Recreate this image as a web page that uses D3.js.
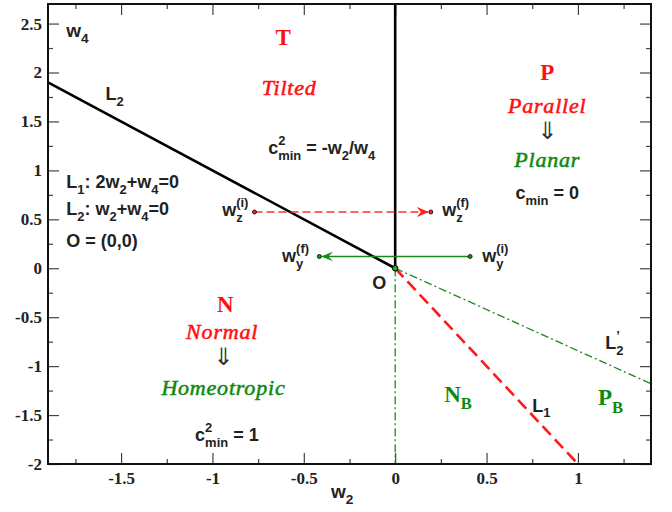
<!DOCTYPE html>
<html>
<head>
<meta charset="utf-8">
<script src="https://cdn.jsdelivr.net/npm/d3@7"></script>
<style>
  body { margin: 0; background: #fff; }
  .lab { font-family: "Liberation Sans", Arial, sans-serif; font-weight: bold; }
  .big { font-family: "Liberation Serif", serif; font-weight: bold; }
  .ital { font-family: "Liberation Serif", serif; font-style: italic; letter-spacing: 0.8px; stroke-width: 0.55px; }
  .arrow { font-family: "DejaVu Sans", sans-serif; font-weight: normal; }
</style>
</head>
<body>
<svg width="672" height="512"></svg>
<script>
const svg = d3.select("svg");

// axis ranges and ticks
const xDomain = [-1.9, 1.4];
const yDomain = [-2, 2.7];
const xTicks = [-1.5, -1, -0.5, 0, 0.5, 1];
const yTicks = [-2, -1.5, -1, -0.5, 0, 0.5, 1, 1.5, 2, 2.5];
const xMinor = [-1.75, -1.25, -0.75, -0.25, 0.25, 0.75, 1.25];
const yMinor = [-1.75, -1.25, -0.75, -0.25, 0.25, 0.75, 1.25, 1.75, 2.25];

// boundary lines (w2, w4)
const lineL2 = [[-1.9, 1.9], [0, 0]];
const lineVert = [[0, 0], [0, 2.7]];
const lineL1 = [[0, 0], [1, -2]];
const lineNegAxis = [[0, 0], [0, -2]];
const lineL2p = [[0, 0], [1.4, -1.18]];

// trajectories
const wzStart = [-0.77, 0.575];
const wzEnd = [0.195, 0.575];
const wyStart = [0.41, 0.12];
const wyEnd = [-0.415, 0.12];

const margin = { top: 4, right: 21, bottom: 48, left: 48 };
const width = 672, height = 512;
const innerWidth = width - margin.left - margin.right;
const innerHeight = height - margin.top - margin.bottom;

const x = d3.scaleLinear().domain(xDomain).range([0, innerWidth]);
const y = d3.scaleLinear().domain(yDomain).range([innerHeight, 0]);

const g = svg.append("g").attr("transform", `translate(${margin.left},${margin.top})`);

const fmt = (d) => String(d);
const styleAxis = (sel) => {
  sel.select(".domain").remove();
  sel.selectAll(".tick line").attr("stroke", "#444").attr("stroke-width", 1.2);
  sel.selectAll(".tick text")
    .style("font-family", "'Liberation Serif', 'Times New Roman', Times, serif")
    .style("font-weight", "bold")
    .style("font-size", "17px")
    .attr("fill", "#222");
};
const bare = (sel) => {
  styleAxis(sel);
  sel.selectAll("text").remove();
};

// major + minor ticks, all four sides
g.append("g").attr("transform", `translate(0,${innerHeight})`)
  .call(d3.axisBottom(x).tickValues(xTicks).tickFormat(fmt).tickSizeInner(-11).tickPadding(8))
  .call(styleAxis);
g.append("g").attr("transform", `translate(0,${innerHeight})`)
  .call(d3.axisBottom(x).tickValues(xMinor).tickSizeInner(-5)).call(bare);
g.append("g").call(d3.axisTop(x).tickValues(xTicks).tickSizeInner(-11)).call(bare);
g.append("g").call(d3.axisTop(x).tickValues(xMinor).tickSizeInner(-5)).call(bare);

g.append("g")
  .call(d3.axisLeft(y).tickValues(yTicks).tickFormat(fmt).tickSizeInner(-11).tickPadding(6))
  .call(styleAxis);
g.append("g").call(d3.axisLeft(y).tickValues(yMinor).tickSizeInner(-5)).call(bare);
g.append("g").attr("transform", `translate(${innerWidth},0)`)
  .call(d3.axisRight(y).tickValues(yTicks).tickSizeInner(-11)).call(bare);
g.append("g").attr("transform", `translate(${innerWidth},0)`)
  .call(d3.axisRight(y).tickValues(yMinor).tickSizeInner(-5)).call(bare);

// markers
const defs = svg.append("defs");
defs.append("marker").attr("id", "arrRed")
  .attr("viewBox", "0 0 12 10").attr("refX", 11).attr("refY", 5)
  .attr("markerWidth", 12).attr("markerHeight", 10).attr("markerUnits", "userSpaceOnUse")
  .attr("orient", "auto")
  .append("path").attr("d", "M0,0 L12,5 L0,10 L4,5 Z").attr("fill", "#ff2020");
defs.append("marker").attr("id", "arrGreen")
  .attr("viewBox", "0 0 12 10").attr("refX", 11).attr("refY", 5)
  .attr("markerWidth", 12).attr("markerHeight", 10).attr("markerUnits", "userSpaceOnUse")
  .attr("orient", "auto")
  .append("path").attr("d", "M0,0 L12,5 L0,10 L5,5 Z").attr("fill", "#1a8a1a");

const line = d3.line().x((d) => x(d[0])).y((d) => y(d[1]));

g.append("path").attr("d", line(lineL1)).attr("fill", "none")
  .attr("stroke", "#ff1a1a").attr("stroke-width", 2.6).attr("stroke-dasharray", "12,6");
g.append("path").attr("d", line(lineNegAxis)).attr("fill", "none")
  .attr("stroke", "#1a8a1a").attr("stroke-width", 1.3).attr("stroke-dasharray", "8,3,2,3");
g.append("path").attr("d", line(lineL2p)).attr("fill", "none")
  .attr("stroke", "#1a8a1a").attr("stroke-width", 1.3).attr("stroke-dasharray", "8,3,2,3");
g.append("path").attr("d", line(lineL2)).attr("fill", "none")
  .attr("stroke", "#000").attr("stroke-width", 2.6);
g.append("path").attr("d", line(lineVert)).attr("fill", "none")
  .attr("stroke", "#000").attr("stroke-width", 2.6);

// trajectories
g.append("line")
  .attr("x1", x(wzStart[0])).attr("y1", y(wzStart[1]))
  .attr("x2", x(wzEnd[0]) - 3).attr("y2", y(wzEnd[1]))
  .attr("stroke", "#ff3030").attr("stroke-width", 1.6).attr("stroke-dasharray", "8,4")
  .attr("marker-end", "url(#arrRed)");
g.append("line")
  .attr("x1", x(wyStart[0])).attr("y1", y(wyStart[1]))
  .attr("x2", x(wyEnd[0]) + 3).attr("y2", y(wyEnd[1]))
  .attr("stroke", "#1a8a1a").attr("stroke-width", 1.3)
  .attr("marker-end", "url(#arrGreen)");

g.selectAll("circle.wz").data([wzStart, wzEnd]).join("circle").attr("class", "wz")
  .attr("cx", (d) => x(d[0])).attr("cy", (d) => y(d[1])).attr("r", 2)
  .attr("fill", "#ff2020").attr("stroke", "#000").attr("stroke-width", 0.8);
g.selectAll("circle.wy").data([wyStart, wyEnd]).join("circle").attr("class", "wy")
  .attr("cx", (d) => x(d[0])).attr("cy", (d) => y(d[1])).attr("r", 2)
  .attr("fill", "#1a9a1a").attr("stroke", "#000").attr("stroke-width", 0.8);
g.append("circle").attr("cx", x(0)).attr("cy", y(0)).attr("r", 2.8)
  .attr("fill", "#22aa22").attr("stroke", "#000").attr("stroke-width", 1);

// frame
g.append("rect").attr("width", innerWidth).attr("height", innerHeight)
  .attr("fill", "none").attr("stroke", "#111").attr("stroke-width", 2);

// rich text with sub/superscripts
function rich(parent, px, py, segs, size, cls, anchor, color) {
  const c = color || "#222";
  const t = parent.append("text").attr("x", px).attr("y", py)
    .attr("class", cls).attr("font-size", size)
    .attr("text-anchor", anchor || "start").attr("fill", c);
  if (cls === "ital") t.attr("stroke", c);
  let level = 0, prev = null;
  segs.forEach(([s, type]) => {
    const target = type === "sub" ? 0.32 * size : type === "sup" ? -0.5 * size : 0;
    const sp = t.append("tspan").attr("dy", target - level).text(s);
    if (type) sp.attr("font-size", size * 0.72);
    if (prev && prev.type && type && prev.type !== type) {
      sp.attr("dx", -prev.node.getComputedTextLength());
    }
    level = target;
    prev = { type, node: sp.node() };
  });
  return t;
}

const red = "#ff1010", green = "#0e8a0e";

// labels: [w2, w4] anchor positions
rich(g, x(-1.8), y(2.36), [["w", ""], ["4", "sub"]], 19, "lab");
rich(g, x(-1.585), y(1.72), [["L", ""], ["2", "sub"]], 18, "lab");
rich(g, x(-1.8), y(0.82), [["L", ""], ["1", "sub"], [": 2w", ""], ["2", "sub"], ["+w", ""], ["4", "sub"], ["=0", ""]], 18, "lab");
rich(g, x(-1.8), y(0.54), [["L", ""], ["2", "sub"], [": w", ""], ["2", "sub"], ["+w", ""], ["4", "sub"], ["=0", ""]], 18, "lab");
rich(g, x(-1.8), y(0.22), [["O = (0,0)", ""]], 18, "lab");

rich(g, x(-0.613), y(2.28), [["T", ""]], 23, "big", "middle", red);
rich(g, x(-0.58), y(1.77), [["Tilted", ""]], 22, "ital", "middle", red);
rich(g, x(-0.695), y(1.17), [["c", ""], ["2", "sup"], ["min", "sub"], [" = -w", ""], ["2", "sub"], ["/w", ""], ["4", "sub"]], 18, "lab");

rich(g, x(0.832), y(1.92), [["P", ""]], 23, "big", "middle", red);
rich(g, x(0.832), y(1.585), [["Parallel", ""]], 22, "ital", "middle", red);
rich(g, x(0.832), y(1.325), [["\u21D3", ""]], 24, "arrow", "middle", "#333");
rich(g, x(0.832), y(1.034), [["Planar", ""]], 22, "ital", "middle", green);
rich(g, x(0.832), y(0.708), [["c", ""], ["min", "sub"], [" = 0", ""]], 18, "lab", "middle");

rich(g, x(-0.947), y(0.536), [["w", ""], ["z", "sub"], ["(i)", "sup"]], 18, "lab");
rich(g, x(0.257), y(0.536), [["w", ""], ["z", "sub"], ["(f)", "sup"]], 18, "lab");
rich(g, x(-0.619), y(0.064), [["w", ""], ["y", "sub"], ["(f)", "sup"]], 18, "lab");
rich(g, x(0.476), y(0.064), [["w", ""], ["y", "sub"], ["(i)", "sup"]], 18, "lab");
rich(g, x(-0.126), y(-0.21), [["O", ""]], 18, "lab");

rich(g, x(-0.93), y(-0.445), [["N", ""]], 23, "big", "middle", red);
rich(g, x(-0.947), y(-0.72), [["Normal", ""]], 22, "ital", "middle", red);
rich(g, x(-0.94), y(-0.985), [["\u21D3", ""]], 24, "arrow", "middle", "#333");
rich(g, x(-0.94), y(-1.30), [["Homeotropic", ""]], 22, "ital", "middle", green);
rich(g, x(-1.095), y(-1.765), [["c", ""], ["2", "sup"], ["min", "sub"], [" = 1", ""]], 18, "lab");

rich(g, x(0.268), y(-1.365), [["N", ""], ["B", "sub"]], 23, "big", "start", green);
rich(g, x(0.75), y(-1.465), [["L", ""], ["1", "sub"]], 18, "lab");
rich(g, x(1.11), y(-1.40), [["P", ""], ["B", "sub"]], 23, "big", "start", green);
rich(g, x(1.15), y(-0.83), [["L", ""], ["\u2019", "sup"], ["2", "sub"]], 18, "lab");

// axis title
rich(svg, 331, 498, [["w", ""], ["2", "sub"]], 19, "lab");
</script>
</body>
</html>
